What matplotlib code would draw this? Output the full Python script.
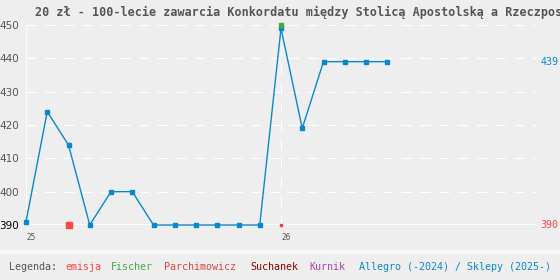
import matplotlib.pyplot as plt
import numpy as np

# monthly prices, index 0 = start of 2025
allegro = [391, 424, 414, 390, 400, 400, 390, 390, 390, 390, 390, 390,
           449, 419, 439, 439, 439, 439]
emisja_x = [2]
emisja_y = [390]
fischer_x = [12]
fischer_y = [450]
parchimowicz_x = [12]
parchimowicz_y = [390]
year_ticks = [0, 12]
year_labels = ["25", "26"]
y_ticks = [390, 400, 410, 420, 430, 440, 450]

BG = "#eeeeee"
BLUE = "#0a88cc"
RED = "#ff4444"
MONO = "DejaVu Sans Mono"

W, H = 560, 280
fig = plt.figure(figsize=(W / 100, H / 100), dpi=100, facecolor=BG)
ax = fig.add_axes([26 / W, 1 - 225 / H, 510 / W, 200 / H], facecolor=BG)

ax.set_xlim(0, 24)
ax.set_ylim(390, 450)
for s in ax.spines.values():
    s.set_visible(False)
ax.axvline(0, color="white", lw=1.2, zorder=1)
ax.axhline(390, color="white", lw=1.2, zorder=1)
for v in y_ticks[1:]:
    ax.axhline(v, color="white", lw=0.75, ls=(0, (10, 8)), zorder=1)
ax.axvline(year_ticks[1], color="white", lw=0.75, ls=(0, (10, 8)), zorder=1)

x = np.arange(len(allegro))
ax.plot(x, allegro, color=BLUE, lw=1, marker="s", ms=2.6, zorder=3, clip_on=False)
ax.plot(emisja_x, emisja_y, ls="none", marker="s", ms=3.8, color=RED, zorder=4, clip_on=False)
ax.plot(fischer_x, fischer_y, ls="none", marker="s", ms=2.8, color="#44aa44", zorder=4, clip_on=False)
ax.plot(parchimowicz_x, parchimowicz_y, ls="none", marker="s", ms=2.0, color="#dd4444", zorder=4, clip_on=False)

ax.set_yticks(y_ticks)
ax.set_yticklabels([str(v) for v in y_ticks], fontsize=7.5, color="#555555")
ax.get_yticklabels()[0].set_color("black")
ax.tick_params(axis="y", length=0, pad=5)
ax.set_xticks(year_ticks)
ax.set_xticklabels(year_labels, fontsize=5.5, color="#555555", family=MONO)
ax.tick_params(axis="x", length=0, pad=6)
for lab in ax.get_xticklabels():
    lab.set_horizontalalignment("left")

# right-hand value labels
ax.text(1.009, allegro[-1], str(allegro[-1]), transform=ax.get_yaxis_transform(),
        color=BLUE, fontsize=7.2, family=MONO, va="center", ha="left")
ax.text(1.009, min(allegro), str(min(allegro)), transform=ax.get_yaxis_transform(),
        color=RED, fontsize=7.2, family=MONO, va="center", ha="left")

fig.text(35 / W, 1 - 12 / H,
         "20 zł - 100-lecie zawarcia Konkordatu między Stolicą Apostolską a Rzeczpospolitą Polską",
         family=MONO, fontweight="bold", fontsize=8.5, color="#555555", va="center", ha="left")

# legend band
fig.patches.append(plt.Rectangle((0, 1 - 253 / H), 1, 3 / H, transform=fig.transFigure,
                                 color="#f8f8f8", zorder=0))
legend = [("Legenda:", "#555555", 9), ("emisja", RED, 65), ("Fischer", "#44aa44", 111),
          ("Parchimowicz", "#dd4444", 164), ("Suchanek", "#880000", 250),
          ("Kurnik", "#aa44aa", 309), ("Allegro (-2024) / Sklepy (2025-)", BLUE, 359)]
for txt, col, px in legend:
    fig.text(px / W, 1 - 267 / H, txt, family=MONO, fontsize=7.2, color=col,
             va="center", ha="left")

fig.savefig("out.png", dpi=100, facecolor=BG)
